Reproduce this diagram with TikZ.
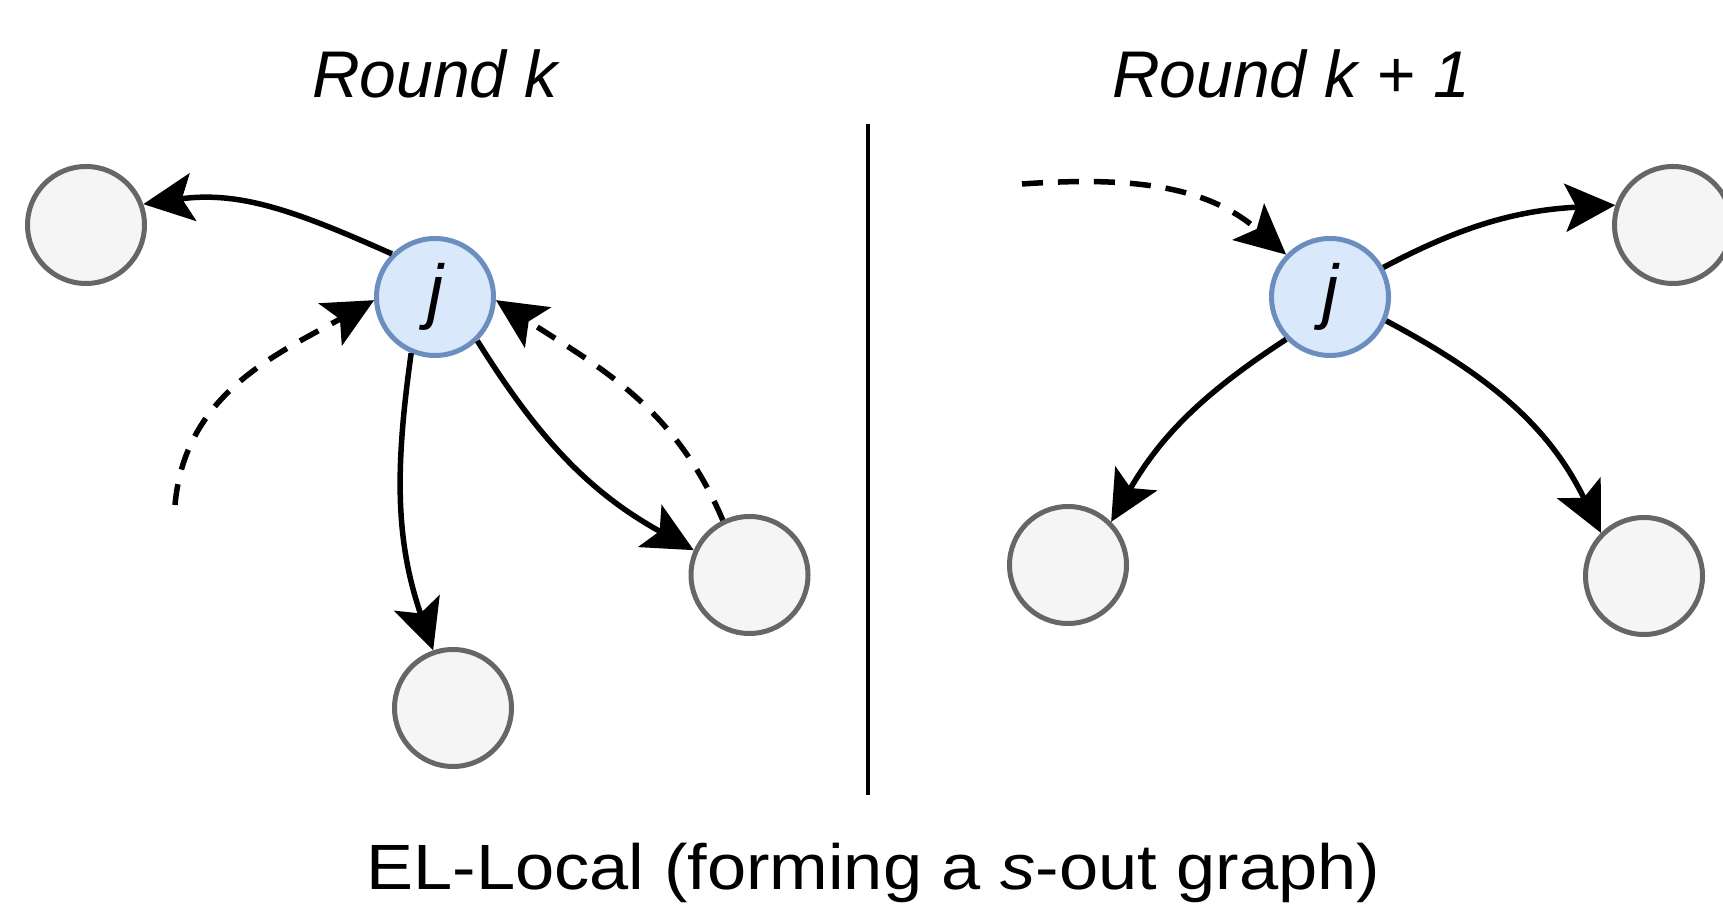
\documentclass[tikz,border=0pt]{standalone}
\usepackage{fontspec}
\setmainfont{Liberation Sans}
\usetikzlibrary{arrows.meta}
\definecolor{peerfill}{HTML}{F5F5F5}
\definecolor{peerline}{HTML}{666666}
\definecolor{selffill}{HTML}{DAE8FC}
\definecolor{selfline}{HTML}{6C8EBF}

\begin{document}
\begin{tikzpicture}[x=1pt,y=1pt,
  peer/.style={circle, draw=peerline, fill=peerfill, line width=5pt,
               minimum size=117pt, inner sep=0pt},
  self/.style={peer, draw=selfline, fill=selffill,
               font=\fontsize{72}{84}\selectfont\itshape},
  link/.style={line width=5.5pt, line join=round,
               -{Stealth[length=50pt,width=48pt,inset=11pt]}},
  hint/.style={link, dash pattern=on 21pt off 15pt},
  title/.style={anchor=base, inner sep=0pt,
                font=\fontsize{66}{79}\selectfont\itshape}]
\useasboundingbox (0,0) rectangle (1723,909);

% headings
\node[title] (t1) at (435,811) {Round k};
\node[title] (t2) at (1291,811) {Round k + 1};

% separator between the two rounds
\coordinate (divtop) at (868,785);
\coordinate (divbot) at (868,114);
\draw[line width=4.5pt] (divtop) -- (divbot);

% round k
\node[self] (jL) at (435,612) {j};
\node[peer] (TL) at (86,684) {};
\node[peer] (B)  at (453,201) {};
\node[peer] (RL) at (749.5,334) {};
\coordinate (inL) at (175,404);

\draw[link] (jL.135) to[out=156,in=8]   (TL.20);
\draw[hint] (inL)    to[out=85,in=209]  (jL.183);
\draw[link] (jL.247) to[out=262,in=109] (B.109);
\draw[link] (jL.314) to[out=-58,in=151] (RL.156);
\draw[hint] (RL.116) to[out=113,in=-33] (jL.-3);

% round k + 1
\node[self] (jR) at (1330,612) {j};
\node[peer] (TR) at (1673,684) {};
\node[peer] (BL) at (1068,344) {};
\node[peer] (BR) at (1644,333) {};
\coordinate (inR) at (1022,725);

\draw[hint] (inR)    to[out=4,in=139]   (jR.136);
\draw[link] (jR.29)  to[out=28,in=183]  (TR.161);
\draw[link] (jR.224) to[out=213,in=60]  (BL.45);
\draw[link] (jR.-23) to[out=-28,in=116] (BR.135);

% caption
\node[anchor=base, inner sep=0pt, font=\fontsize{64}{77}\selectfont] (cap)
  at (873.5,19) {\scalebox{1.1}[1]{EL-Local (forming a \textit{s}-out graph)}};
\end{tikzpicture}
\end{document}
